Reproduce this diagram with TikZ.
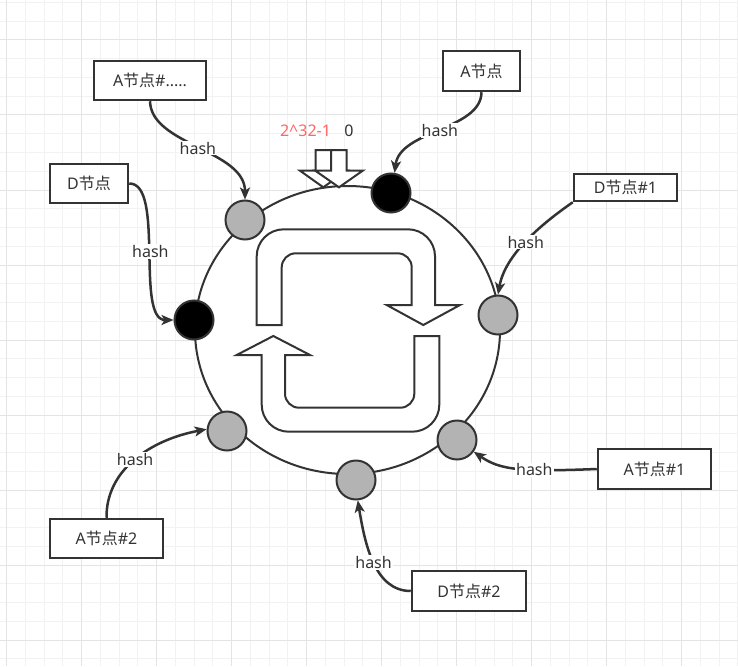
\documentclass[tikz,border=0pt]{standalone}
\usepackage{fontspec}
\setmainfont{Noto Sans}
\newfontfamily\cjk{Noto Sans CJK SC}
\usetikzlibrary{arrows.meta}
\definecolor{dk}{HTML}{333333}
\definecolor{gridminor}{HTML}{F2F2F2}
\definecolor{gridmajor}{HTML}{E4E4E4}
\definecolor{nodegray}{HTML}{B3B3B3}
\definecolor{lred}{HTML}{FF6666}
\newcommand{\jd}{{\cjk 节点}}
\begin{document}
\begin{tikzpicture}[x=1pt,y=-1pt,
  every node/.style={font=\fontsize{16}{19}\selectfont, text=dk},
  nbox/.style={draw=dk, line width=2.5pt, fill=white, inner sep=0pt},
  ndot/.style={circle, draw=dk, line width=2pt, minimum size=39pt, inner sep=0pt, fill=nodegray},
  nblk/.style={ndot, fill=black},
  conn/.style={draw=dk, line width=2.5pt, -{Stealth[length=12pt,width=10pt,inset=3pt]}},
  lbl/.style={fill=white, inner sep=1pt},
  blockarrow/.style={draw=dk, line width=2pt, fill=white, line join=miter}]
\useasboundingbox (0,0) rectangle (738,666);
\fill[white] (0,0) rectangle (738,666);
% grid
\foreach \i in {0,...,39} {\draw[gridminor, line width=1pt] ({6.7+18.75*\i},0) -- ({6.7+18.75*\i},666);}
\foreach \i in {0,...,35} {\draw[gridminor, line width=1pt] (0,{2.5+18.75*\i}) -- (738,{2.5+18.75*\i});}
\foreach \i in {0,...,9} {\draw[gridmajor, line width=1pt] ({6.7+75*\i},0) -- ({6.7+75*\i},666);}
\foreach \i in {0,...,8} {\draw[gridmajor, line width=1pt] (0,{40+75*\i}) -- (738,{40+75*\i});}
% ring
\draw[dk, line width=2pt, fill=white] (347.5,330) ellipse [x radius=152.5pt, y radius=144pt];
% rotating arrows
\draw[blockarrow] (256.7,325) -- (256.7,256.3) .. controls (256.7,241.4) and (268.8,229.3) .. (283.7,229.3)
  -- (408,229.3) .. controls (422.9,229.3) and (435,241.4) .. (435,256.3)
  -- (435,305) -- (460,305) -- (423.3,325) -- (386.7,305) -- (411.7,305)
  -- (411.7,267.3) .. controls (411.7,259.6) and (405.4,253.3) .. (397.7,253.3)
  -- (295.7,253.3) .. controls (288.0,253.3) and (281.7,259.6) .. (281.7,267.3)
  -- (281.7,325) -- cycle;
\draw[blockarrow] (236.7,355) -- (273.3,336) -- (310,355) -- (285,355)
  -- (285,393.7) .. controls (285,401.4) and (291.3,407.7) .. (299,407.7)
  -- (400.3,407.7) .. controls (408.0,407.7) and (414.3,401.4) .. (414.3,393.7)
  -- (414.3,336) -- (439.3,336)
  -- (439.3,404.7) .. controls (439.3,419.6) and (427.2,431.7) .. (412.3,431.7)
  -- (288.7,431.7) .. controls (273.8,431.7) and (261.7,419.6) .. (261.7,404.7)
  -- (261.7,355) -- cycle;
% top block arrows
\draw[blockarrow] (315.7,150) -- (331,150) -- (331,170.7) -- (346.7,170.7) -- (323.3,187.3) -- (300,170.7) -- (315.7,170.7) -- cycle;
\draw[blockarrow] (331,150) -- (346.7,150) -- (346.7,170.7) -- (362.7,170.7) -- (339,187.3) -- (315.3,170.7) -- (331,170.7) -- cycle;
\node[text=lred] (tmax) at (305.5,131) {2\textasciicircum 32-1};
\node (tzero) at (349,131) {0};
% ring nodes
\node[ndot] (n1) at (245,220) {};
\node[nblk] (n2) at (391,193) {};
\node[ndot] (n3) at (498,315) {};
\node[nblk] (n4) at (194,320) {};
\node[ndot] (n5) at (227,431) {};
\node[ndot] (n6) at (457,440) {};
\node[ndot] (n7) at (356,480) {};
% boxes
\node[nbox, minimum width=112pt, minimum height=39pt] (bAd) at (150,80.5) {A\jd\#.....};
\node[nbox, minimum width=77pt, minimum height=40pt] (bA) at (481.5,71) {A\jd};
\node[nbox, minimum width=103pt, minimum height=27pt] (bD1) at (625.5,187.5) {D\jd\#1};
\node[nbox, minimum width=78pt, minimum height=39pt] (bD) at (89,183.5) {D\jd};
\node[nbox, minimum width=113pt, minimum height=40pt] (bA1) at (654.5,469) {A\jd\#1};
\node[nbox, minimum width=113pt, minimum height=39pt] (bA2) at (106.5,538.5) {A\jd\#2};
\node[nbox, minimum width=114pt, minimum height=40pt] (bD2) at (469,591) {D\jd\#2};
% connectors
\draw[conn] (bAd.south) .. controls (151,145) and (245,150) .. (n1.north) node[lbl,pos=0.5] {hash};
\draw[conn] (bA.south) .. controls (481,130) and (400,130) .. (n2.80) node[lbl,pos=0.5] {hash};
\draw[conn] (bD1.south west) .. controls (540,225) and (505,255) .. (n3.north) node[lbl,pos=0.5] {hash};
\draw[conn] (bD.east) .. controls (165,183) and (135,320) .. (n4.west) node[lbl,pos=0.5] {hash};
\draw[conn] (bA2.north) .. controls (106,470) and (150,440) .. (n5.175) node[lbl,pos=0.5] {hash};
\draw[conn] (bA1.west) .. controls (520,472) and (500,470) .. (n6.-35) node[lbl,pos=0.35] {hash};
\draw[conn] (bD2.west) .. controls (375,591) and (365,545) .. (n7.-85) node[lbl,pos=0.5] {hash};
\end{tikzpicture}
\end{document}
